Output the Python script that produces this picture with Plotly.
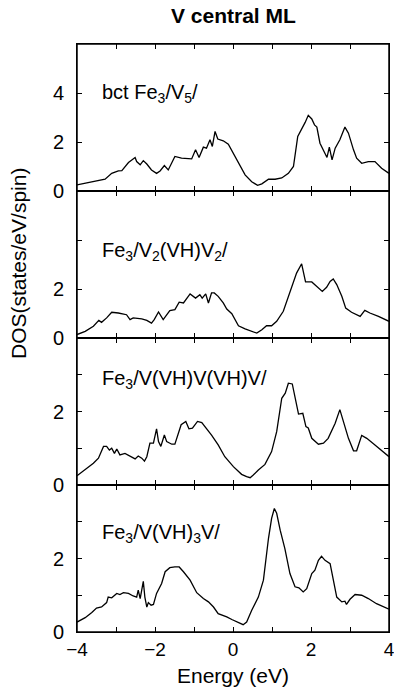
import plotly.graph_objects as go
from plotly.subplots import make_subplots

# Panel 1: bct Fe3/V5/
e1 = [-4.0, -3.54, -3.28, -3.11, -2.94, -2.85, -2.68, -2.51, -2.47, -2.38, -2.30, -2.21, -2.09, -1.96, -1.87,
      -1.76, -1.66, -1.49, -1.32, -1.06, -0.96, -0.87, -0.76, -0.68, -0.59, -0.53, -0.46, -0.39, -0.25, -0.12,
      0.01, 0.14, 0.31, 0.48, 0.63, 0.74, 0.91, 1.08, 1.25, 1.42, 1.55, 1.66, 1.76, 1.85, 1.93, 2.02, 2.09,
      2.15, 2.23, 2.34, 2.41, 2.47, 2.54, 2.62, 2.74, 2.87, 2.96, 3.09, 3.17, 3.30, 3.47, 3.64, 3.81, 4.0]
d1 = [0.25, 0.38, 0.48, 0.72, 0.82, 0.83, 1.16, 1.37, 1.20, 1.07, 1.24, 1.10, 0.86, 0.72, 0.82,
      1.04, 0.86, 1.41, 1.34, 1.31, 1.68, 1.37, 1.79, 1.75, 2.09, 1.82, 2.43, 2.12, 2.05, 1.91,
      1.54, 1.13, 0.66, 0.38, 0.23, 0.29, 0.48, 0.48, 0.53, 0.72, 1.00, 2.23, 2.50, 2.80, 3.09, 2.94, 2.70,
      2.61, 1.95, 1.61, 1.37, 1.79, 1.27, 1.75, 2.09, 2.61, 2.36, 1.68, 1.34, 1.13, 1.20, 1.20, 0.93, 0.72]

# Panel 2: Fe3/V2(VH)V2/
e2 = [-4.0, -3.79, -3.58, -3.44, -3.37, -3.24, -3.11, -2.94, -2.73, -2.64, -2.56, -2.34, -2.21, -2.09, -2.02,
      -1.91, -1.79, -1.62, -1.49, -1.38, -1.27, -1.10, -0.96, -0.85, -0.79, -0.70, -0.63, -0.55, -0.48, -0.38,
      -0.25, -0.16, -0.03, 0.14, 0.31, 0.48, 0.61, 0.74, 0.86, 0.99, 1.12, 1.29, 1.46, 1.63, 1.76, 1.86,
      2.02, 2.15, 2.29, 2.40, 2.49, 2.57, 2.66, 2.79, 2.89, 3.04, 3.26, 3.38, 3.51, 3.73, 4.0]
d2 = [0.14, 0.27, 0.48, 0.72, 0.64, 0.82, 1.05, 1.02, 0.95, 0.75, 0.82, 0.78, 0.72, 0.61, 0.75,
      1.06, 0.75, 1.12, 1.16, 1.46, 1.43, 1.80, 1.63, 1.77, 1.63, 1.80, 1.43, 1.84, 1.84, 1.70,
      1.43, 1.18, 0.99, 0.50, 0.37, 0.27, 0.20, 0.34, 0.50, 0.50, 0.68, 1.09, 1.84, 2.65, 3.03, 2.29,
      2.29, 2.11, 1.90, 2.07, 2.31, 2.41, 2.18, 1.70, 1.22, 1.05, 0.88, 1.13, 1.02, 0.88, 0.68]

# Panel 3: Fe3/V(VH)V(VH)V/
e3 = [-4.0, -3.79, -3.58, -3.45, -3.32, -3.24, -3.17, -3.11, -3.04, -2.98, -2.90, -2.77, -2.64, -2.51, -2.43,
      -2.34, -2.27, -2.21, -2.13, -2.04, -1.96, -1.91, -1.85, -1.76, -1.70, -1.57, -1.49, -1.33, -1.21, -1.13,
      -1.04, -0.91, -0.80, -0.68, -0.55, -0.38, -0.21, 0.01, 0.22, 0.35, 0.44, 0.52, 0.65, 0.82, 0.99, 1.12,
      1.25, 1.34, 1.42, 1.52, 1.59, 1.68, 1.79, 1.87, 1.93, 2.02, 2.19, 2.32, 2.44, 2.62, 2.74, 2.83, 2.96,
      3.09, 3.17, 3.30, 3.43, 3.64, 3.81, 4.0]
d3 = [0.25, 0.41, 0.59, 0.73, 1.05, 1.05, 0.95, 1.00, 0.86, 0.98, 0.82, 0.86, 0.79, 0.71, 0.79,
      0.73, 0.65, 0.77, 1.14, 1.14, 1.53, 1.18, 1.05, 1.36, 1.18, 1.11, 1.11, 1.64, 1.73, 1.53,
      1.55, 1.73, 1.70, 1.55, 1.36, 1.09, 0.77, 0.50, 0.29, 0.23, 0.20, 0.27, 0.41, 0.56, 0.91, 1.45,
      2.36, 2.50, 2.77, 2.75, 2.36, 1.93, 1.95, 1.59, 1.55, 1.27, 1.11, 1.14, 1.27, 1.68, 2.05, 1.73, 1.27,
      0.93, 0.93, 1.35, 1.27, 1.09, 0.95, 0.77]

# Panel 4: Fe3/V(VH)3V/
e4 = [-4.0, -3.79, -3.62, -3.50, -3.37, -3.24, -3.20, -3.11, -2.98, -2.90, -2.81, -2.68, -2.56, -2.47, -2.43,
      -2.38, -2.30, -2.26, -2.21, -2.17, -2.10, -2.04, -1.96, -1.83, -1.74, -1.62, -1.49, -1.38, -1.27, -1.10,
      -0.93, -0.76, -0.63, -0.50, -0.38, -0.25, -0.16, -0.03, 0.14, 0.26, 0.35, 0.48, 0.65, 0.78, 0.91, 0.99,
      1.06, 1.12, 1.21, 1.33, 1.46, 1.59, 1.69, 1.80, 1.89, 2.02, 2.10, 2.19, 2.27, 2.36, 2.49, 2.57, 2.66,
      2.79, 2.87, 2.91, 3.00, 3.13, 3.30, 3.47, 3.68, 4.0]
d4 = [0.27, 0.39, 0.53, 0.65, 0.68, 0.80, 0.95, 0.93, 1.05, 1.02, 1.07, 1.05, 0.98, 0.95, 1.14,
      0.91, 1.38, 0.95, 0.68, 0.80, 0.73, 0.75, 1.05, 1.32, 1.64, 1.75, 1.77, 1.77, 1.64, 1.41,
      1.07, 0.91, 0.82, 0.68, 0.50, 0.45, 0.41, 0.34, 0.25, 0.20, 0.27, 0.59, 0.95, 1.41, 2.55, 3.09,
      3.36, 3.23, 2.77, 2.27, 1.59, 1.23, 1.20, 1.09, 1.18, 1.59, 1.68, 1.95, 2.06, 1.95, 1.86, 1.45, 0.95,
      0.82, 0.84, 0.75, 0.89, 1.02, 1.00, 0.91, 0.77, 0.62]

labels = ["bct Fe<sub>3</sub>/V<sub>5</sub>/",
          "Fe<sub>3</sub>/V<sub>2</sub>(VH)V<sub>2</sub>/",
          "Fe<sub>3</sub>/V(VH)V(VH)V/",
          "Fe<sub>3</sub>/V(VH)<sub>3</sub>V/"]
label_y = [4.0, 3.53, 2.86, 2.68]
y_ranges = [[0, 6], [0, 6], [0, 4], [0, 4]]
y_tickvals = [[0, 2, 4], [0, 2, 4], [0, 1, 2, 3], [0, 1, 2, 3]]
y_ticktext = [["0", "2", "4"], ["0", "2", ""], ["0", "", "2", ""], ["0", "", "2", ""]]
x_tickvals = [-4, -3, -2, -1, 0, 1, 2, 3, 4]
x_ticktext = ["−4", "", "−2", "", "0", "", "2", "", "4"]

energies = [e1, e2, e3, e4]
dos = [d1, d2, d3, d4]

FONT = "Liberation Sans, Arial, Helvetica, sans-serif"
W, H = 394, 696
ML, MR, MT, MB = 77, 5, 44, 64
PW, PH = W - ML - MR, H - MT - MB


def px_x(x):
    return (x - ML) / PW


def px_y(y):
    return (H - MB - y) / PH


fig = make_subplots(rows=4, cols=1, shared_xaxes=True, vertical_spacing=0)
for i in range(4):
    fig.add_trace(go.Scatter(x=energies[i], y=dos[i], mode="lines",
                             line=dict(color="black", width=1.3), showlegend=False,
                             hoverinfo="skip"), row=i + 1, col=1)
    fig.update_yaxes(range=y_ranges[i], tickvals=y_tickvals[i], ticktext=y_ticktext[i],
                     row=i + 1, col=1)
    fig.add_annotation(x=-3.4, y=label_y[i], text=labels[i], showarrow=False,
                       xanchor="left", yanchor="middle",
                       font=dict(size=20, color="black", family=FONT),
                       xref="x" if i == 0 else f"x{i+1}", yref="y" if i == 0 else f"y{i+1}")

fig.update_xaxes(range=[-4, 4], tickvals=x_tickvals, ticktext=x_ticktext,
                 ticks="inside", ticklen=5, tickwidth=1.2, tickcolor="black",
                 showline=True, linecolor="black", linewidth=1, mirror="allticks",
                 showgrid=False, zeroline=False, automargin=False, ticklabeloverflow="allow",
                 tickfont=dict(size=19, color="black", family=FONT))
fig.update_yaxes(ticks="inside", ticklen=5, tickwidth=1.2, tickcolor="black",
                 showline=True, linecolor="black", linewidth=1, mirror="allticks",
                 showgrid=False, zeroline=False, ticklabelstandoff=8, automargin=False,
                 tickfont=dict(size=20, color="black", family=FONT))

# outer frame
fig.add_shape(type="rect", xref="paper", yref="paper", x0=0, x1=1, y0=0, y1=1,
              line=dict(color="black", width=1.5))

fig.add_annotation(x=px_x(18), y=px_y(264), xref="paper", yref="paper", text="DOS(states/eV/spin)",
                   xanchor="center", yanchor="middle",
                   showarrow=False, textangle=-90, font=dict(size=21, color="black", family=FONT))
fig.add_annotation(text="<b>V central ML</b>", xref="paper", yref="paper", x=px_x(233), y=px_y(16),
                   xanchor="center", yanchor="middle",
                   showarrow=False, font=dict(size=21, color="black", family=FONT))
fig.add_annotation(text="Energy (eV)", xref="paper", yref="paper", x=px_x(233), y=px_y(675),
                   xanchor="center", yanchor="middle",
                   showarrow=False, font=dict(size=21, color="black", family=FONT))

fig.update_layout(width=W, height=H, margin=dict(l=ML, r=MR, t=MT, b=MB),
                  plot_bgcolor="white", paper_bgcolor="white")

fig.write_html("out.html", config={"displayModeBar": False},
               post_script="document.body.style.margin='0';document.body.style.overflow='hidden';")
